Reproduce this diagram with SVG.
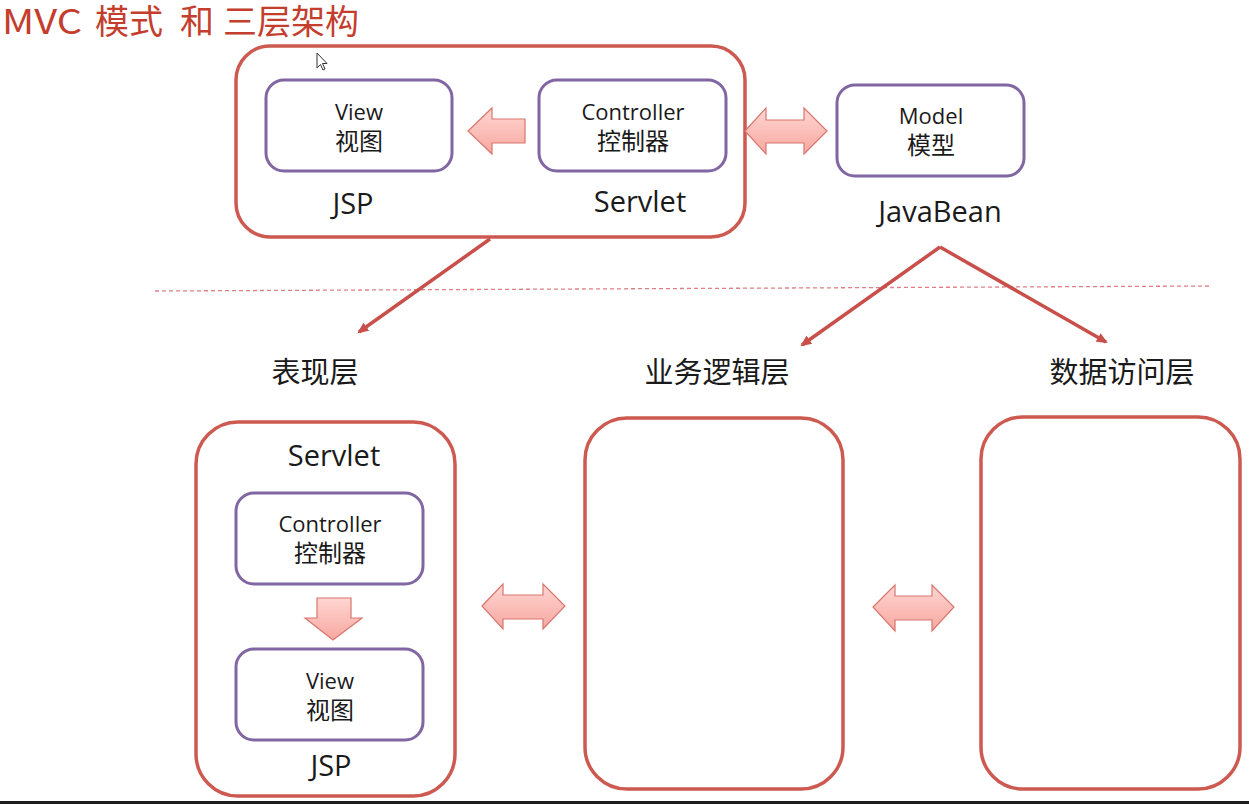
<svg xmlns="http://www.w3.org/2000/svg" width="1249" height="804" viewBox="0 0 1249 804">
<style>
.red{fill:#fff;stroke:#cc5a50;stroke-width:3.5}
.pur{fill:#fff;stroke:#8066a3;stroke-width:3}
.t{font-family:"Open Sans","Noto Sans CJK SC",sans-serif;fill:#1a1a1a;text-anchor:middle}
.s{font-size:22px}
.z{font-family:"Noto Sans CJK SC",sans-serif;font-size:24px;fill:#1a1a1a;text-anchor:middle}
.b{font-size:29px}
.c{font-family:"Noto Sans CJK SC",sans-serif;font-size:29px;fill:#1a1a1a;text-anchor:middle}
.ti{font-family:"Noto Sans CJK SC",sans-serif;font-size:34px;fill:#c43e2e}
.arr{fill:url(#pg);stroke:#d9766e;stroke-width:1.2}
.ln{stroke:#c9504a;stroke-width:3.5;fill:none;marker-end:url(#ah)}
</style>
<defs>
<linearGradient id="pg" x1="0" y1="0" x2="0" y2="1">
<stop offset="0" stop-color="#ffd6d2"/>
<stop offset="1" stop-color="#f7a7a0"/>
</linearGradient>
<marker id="ah" markerWidth="12" markerHeight="12" refX="9" refY="6" orient="auto" markerUnits="userSpaceOnUse">
<path d="M0,1 L11,6 L0,11 Z" fill="#c9504a"/>
</marker>
</defs>
<rect width="1249" height="804" fill="#fff"/>
<g id="title">
<text class="ti" x="2" y="34" textLength="80" lengthAdjust="spacingAndGlyphs">MVC</text>
<text class="ti" x="95" y="34">模式</text>
<text class="ti" x="180" y="34">和</text>
<text class="ti" x="223" y="34">三层架构</text>
</g>

<g id="mvc-box">
<rect class="red" x="236" y="46" width="509" height="191" rx="34"/>
<text class="t b" x="353" y="214">JSP</text>
<text class="t b" x="640" y="212">Servlet</text>
</g>
<g id="view-top">
<rect class="pur" x="266" y="80" width="186" height="91" rx="18"/>
<text class="t s" x="359" y="120">View</text>
<text class="z" x="359" y="150">视图</text>
</g>
<g id="controller-top">
<rect class="pur" x="539" y="80" width="187" height="91" rx="18"/>
<text class="t s" x="633" y="120">Controller</text>
<text class="z" x="633" y="150">控制器</text>
</g>
<g id="model">
<rect class="pur" x="837" y="85" width="187" height="91" rx="18"/>
<text class="t s" x="931" y="124">Model</text>
<text class="z" x="931" y="154">模型</text>
<text class="t b" x="940" y="222">JavaBean</text>
</g>

<g id="presentation">
<rect class="red" x="196" y="422" width="259" height="374" rx="42"/>
<text class="t b" x="334" y="466">Servlet</text>
<text class="t b" x="331" y="776">JSP</text>
</g>
<g id="controller-bottom">
<rect class="pur" x="236" y="493" width="187" height="91" rx="18"/>
<text class="t s" x="330" y="532">Controller</text>
<text class="z" x="330" y="562">控制器</text>
</g>
<g id="view-bottom">
<rect class="pur" x="236" y="649" width="187" height="91" rx="18"/>
<text class="t s" x="330" y="689">View</text>
<text class="z" x="330" y="719">视图</text>
</g>
<g id="business">
<rect class="red" x="585" y="418" width="258" height="371" rx="42"/>
</g>
<g id="data">
<rect class="red" x="981" y="417" width="259" height="372" rx="42"/>
</g>

<g id="labels">
<text class="c" x="315" y="383">表现层</text>
<text class="c" x="717" y="383">业务逻辑层</text>
<text class="c" x="1122" y="383">数据访问层</text>
</g>

<g id="connectors">
<line x1="155" y1="291" x2="1212" y2="286" stroke="#e07f86" stroke-width="1.3" stroke-dasharray="4 3"/>
<line class="ln" x1="490" y1="239" x2="359" y2="332"/>
<line class="ln" x1="940" y1="247" x2="802" y2="345"/>
<line class="ln" x1="940" y1="247" x2="1106" y2="342"/>
<polygon class="arr" points="468,131 492,108 492,119 525,119 525,143 492,143 492,154"/>
<polygon class="arr" points="745,131 766,108 766,120 804,120 804,108 827,131 804,154 804,143 766,143 766,154"/>
<polygon class="arr" points="305,618 317,618 317,598 351,598 351,618 362,618 333,640"/>
<polygon class="arr" points="482,606 503,584 503,595 543,595 543,584 565,606 543,629 543,619 503,619 503,629"/>
<polygon class="arr" points="873,607 895,585 895,596 932,596 932,585 954,607 932,631 932,620 895,620 895,631"/>
</g>

<path d="M317,53 L317,68 L320.5,64.5 L323,70 L325,69 L322.5,63.5 L327,63.5 Z" fill="#fff" stroke="#333" stroke-width="1"/>
<rect x="0" y="801" width="1249" height="3" fill="#1e1e1e"/>
</svg>
